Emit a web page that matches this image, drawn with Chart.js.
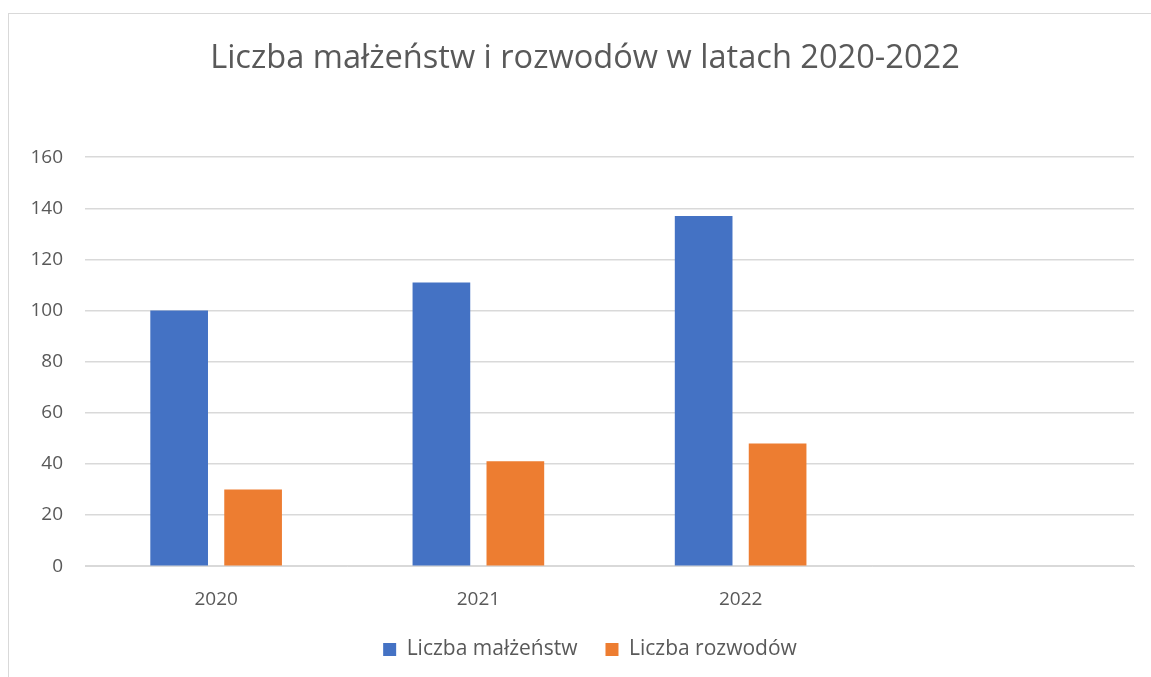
<!DOCTYPE html>
<html><head><meta charset="utf-8">
<script src="https://cdn.jsdelivr.net/npm/chart.js@4"></script>
<style>
html,body{margin:0;padding:0;background:#fff;width:1151px;height:677px;overflow:hidden}
#frame{position:absolute;left:8px;top:13px;width:1200px;height:700px;border:1px solid #d9d9d9;box-sizing:border-box}
#wrap{position:absolute;left:0;top:0;width:1151px;height:677px}
</style></head><body>
<div id="frame"></div>
<div id="wrap"><canvas id="c" width="1151" height="677"></canvas></div>
<script>
const categories = ['2020', '2021', '2022', ''];
const malzenstwa = [100, 111, 137, null];
const rozwody = [30, 41, 48, null];
const yTicks = [0, 20, 40, 60, 80, 100, 120, 140, 160];
const FONT = '"Open Sans", "Noto Sans", sans-serif';
const blockShift = {
  id: 'blockShift',
  afterUpdate(chart) {
    const lg = chart.legend;
    if (lg) { lg.left += 13; lg.right += 13; }
    const tb = chart.titleBlock;
    if (tb) { tb.left += 8; tb.right += 8; }
  }
};
new Chart(document.getElementById('c'), {
  type: 'bar',
  data: {
    labels: categories,
    datasets: [
      {label: 'Liczba małżeństw', data: malzenstwa, backgroundColor: '#4472c4', categoryPercentage: 0.564, barPercentage: 0.78},
      {label: 'Liczba rozwodów', data: rozwody, backgroundColor: '#ed7d31', categoryPercentage: 0.564, barPercentage: 0.78}
    ]
  },
  plugins: [blockShift],
  options: {
    responsive: false,
    animation: false,
    layout: {padding: {left: 20, right: 17, top: 39, bottom: 7}},
    plugins: {
      title: {display: true, text: 'Liczba małżeństw i rozwodów w latach 2020-2022', color: '#595959',
        font: {family: FONT, size: 32.6, weight: 'normal'}, padding: {top: 0, bottom: 79}},
      legend: {position: 'bottom', labels: {color: '#595959', font: {family: FONT, size: 21}, boxWidth: 13, boxHeight: 13, padding: 28},
      },
      tooltip: {enabled: false}
    },
    scales: {
      x: {grid: {display: false, drawTicks: false}, border: {display: true, color: '#d9d9d9'},
        afterFit: s => { s.height = s.height - 22; },
        ticks: {color: '#595959', font: {family: FONT, size: 19}, padding: 22}},
      y: {min: 0, max: 160, afterFit: s => { s.width = 65; },
        afterBuildTicks: s => { s.ticks = yTicks.map(v => ({value: v})); },
        grid: {color: '#d9d9d9', drawTicks: false, lineWidth: 1.5}, border: {display: false},
        ticks: {color: '#595959', font: {family: FONT, size: 19}, padding: 22}}
    }
  }
});
</script>
</body></html>
